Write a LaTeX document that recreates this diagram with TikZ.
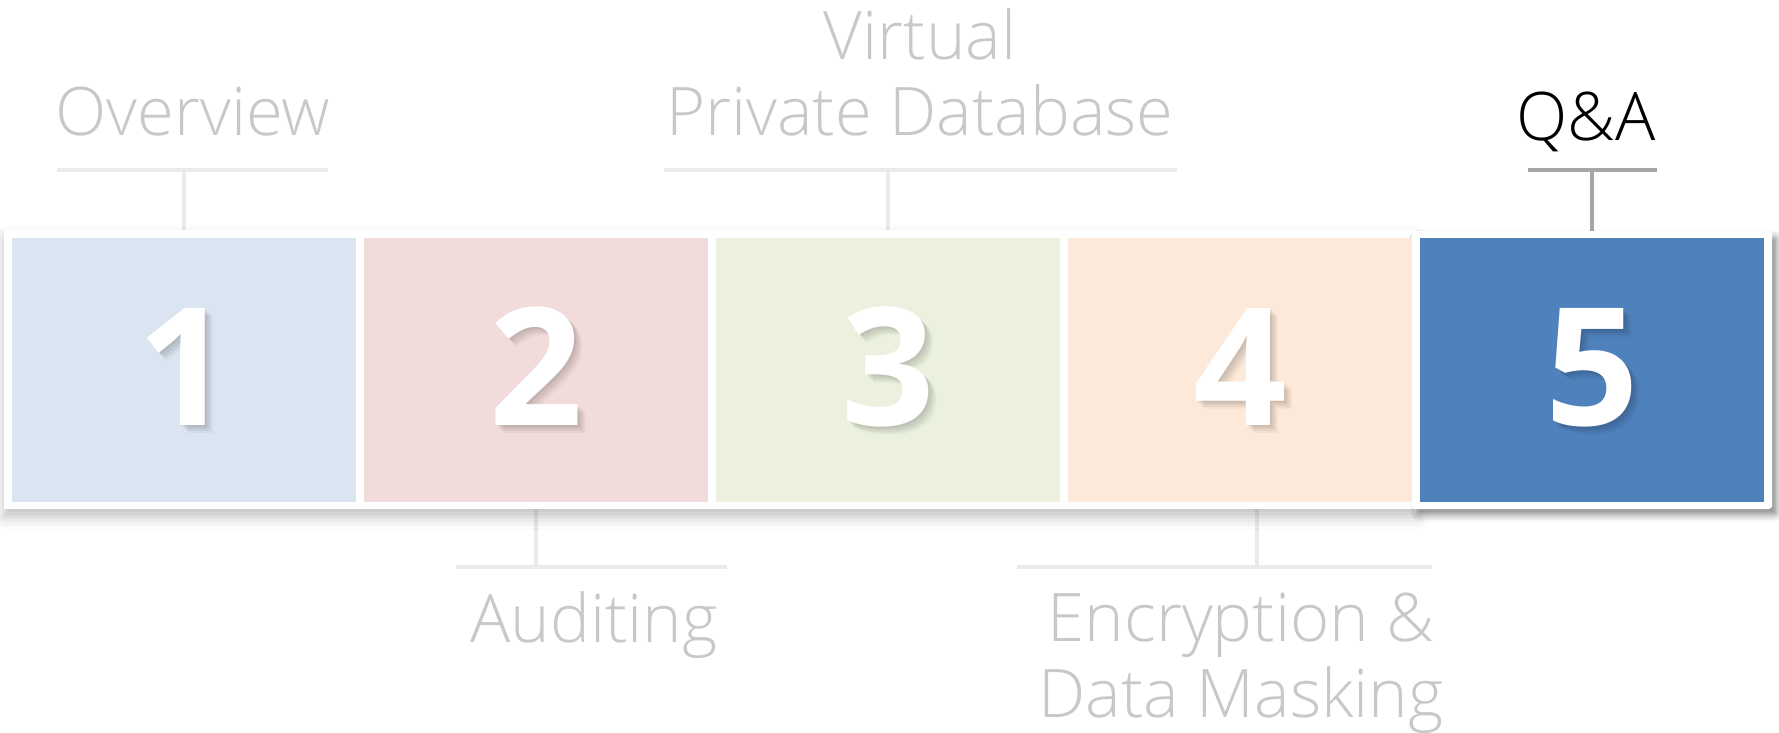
\documentclass[tikz,border=0pt]{standalone}
\usepackage{fontspec}
\setmainfont{Open Sans}
\newfontfamily\lightfam{Open Sans Light}
\usetikzlibrary{shadows.blur}
\definecolor{lblgray}{HTML}{C8C8C8}
\definecolor{brkgray}{HTML}{EBEBEB}
\definecolor{brkdark}{HTML}{A6A6A6}
\definecolor{cone}{HTML}{DBE5F1}
\definecolor{ctwo}{HTML}{F2DCDB}
\definecolor{cthree}{HTML}{EBF1DE}
\definecolor{cfour}{HTML}{FDE9D9}
\definecolor{cfive}{HTML}{4F81BD}
\newcommand\digfont{\fontsize{164bp}{164bp}\selectfont\bfseries}
\newcommand\lblfont{\lightfam\fontsize{67bp}{76bp}\selectfont}
\pgfdeclarelayer{stems}
\pgfdeclarelayer{frame}
\pgfsetlayers{stems,frame,main}
\tikzset{
  seg/.style={minimum width=344bp, minimum height=264bp, inner sep=0pt, outer sep=0pt, anchor=north west},
  digit/.style={font=\digfont, text=white, anchor=base, inner sep=0pt},
  digshadow/.style={font=\digfont, text=black, text opacity=0.06, anchor=base, inner sep=0pt},
  lbl/.style={font=\lblfont, text=lblgray, anchor=base, inner sep=0pt, align=center},
  brk/.style={draw=brkgray, line width=4bp},
  brkd/.style={draw=brkdark, line width=4bp},
}
\begin{document}
\begin{tikzpicture}[x=1bp,y=-1bp]
\useasboundingbox (0,0) rectangle (1779,733);
% segments
\node[seg, fill=cone]   (r1) at (12,238)   {};
\node[seg, fill=ctwo]   (r2) at (364,238)  {};
\node[seg, fill=cthree] (r3) at (716,238)  {};
\node[seg, fill=cfour]  (r4) at (1068,238) {};
\node[seg, fill=cfive]  (r5) at (1420,238) {};
% frames
\begin{pgfonlayer}{frame}
\fill[white, blur shadow={shadow xshift=0bp, shadow yshift=-8bp, shadow blur radius=12bp, shadow opacity=25}] (4,230) rectangle (1416,509);
\fill[white, rounded corners=3bp, blur shadow={shadow xshift=5bp, shadow yshift=-6bp, shadow blur radius=7bp, shadow opacity=45}] (1412,231) rectangle (1772,509);
\end{pgfonlayer}
% digit shadows (soft)
\foreach \i/\x in {1/184,2/536,3/888,4/1240,5/1592}{
  \foreach \o/\op in {2/0.05,4/0.05,6/0.05,8/0.04}{
    \node[digshadow, text opacity=\op] at (\x+\o,425+\o) {\i};
  }
}
\node[digit] (d1) at (184,425) {1};
\node[digit] (d2) at (536,425) {2};
\node[digit] (d3) at (888,425) {3};
\node[digit] (d4) at (1240,425) {4};
\node[digit] (d5) at (1592,425) {5};
% labels
\node[lbl] (l1) at (193,136) {Overview};
\node[lbl] (l3) at (920,136) {Virtual\\Private Database};
\node[lbl, text=black] (l5) at (1586,141) {Q\&A};
\node[lbl] (l2) at (594,642) {Auditing};
\node[lbl] (l4) at (1241,717) {Encryption \&\\Data Masking};
% brackets
\coordinate (t1a) at (57,170);   \coordinate (t1b) at (328,170);
\coordinate (t3a) at (664,170);  \coordinate (t3b) at (1177,170);
\coordinate (t5a) at (1528,170); \coordinate (t5b) at (1657,170);
\coordinate (b2a) at (456,567);  \coordinate (b2b) at (727,567);
\coordinate (b4a) at (1017,567); \coordinate (b4b) at (1432,567);
\coordinate (b4s) at (1257,567);
\begin{pgfonlayer}{stems}
\draw[brk] (t1a) -- (t1b);
\draw[brk] (r1.north |- t1a) -- (r1.north);
\draw[brk] (t3a) -- (t3b);
\draw[brk] (r3.north |- t3a) -- (r3.north);
\draw[brkd] (t5a) -- (t5b);
\draw[brkd] (r5.north |- t5a) -- (r5.north);
\draw[brk] (b2a) -- (b2b);
\draw[brk] (r2.south) -- (r2.south |- b2a);
\draw[brk] (b4a) -- (b4b);
\draw[brk] (b4s |- r4.south) -- (b4s);
\end{pgfonlayer}
\end{tikzpicture}
\end{document}
